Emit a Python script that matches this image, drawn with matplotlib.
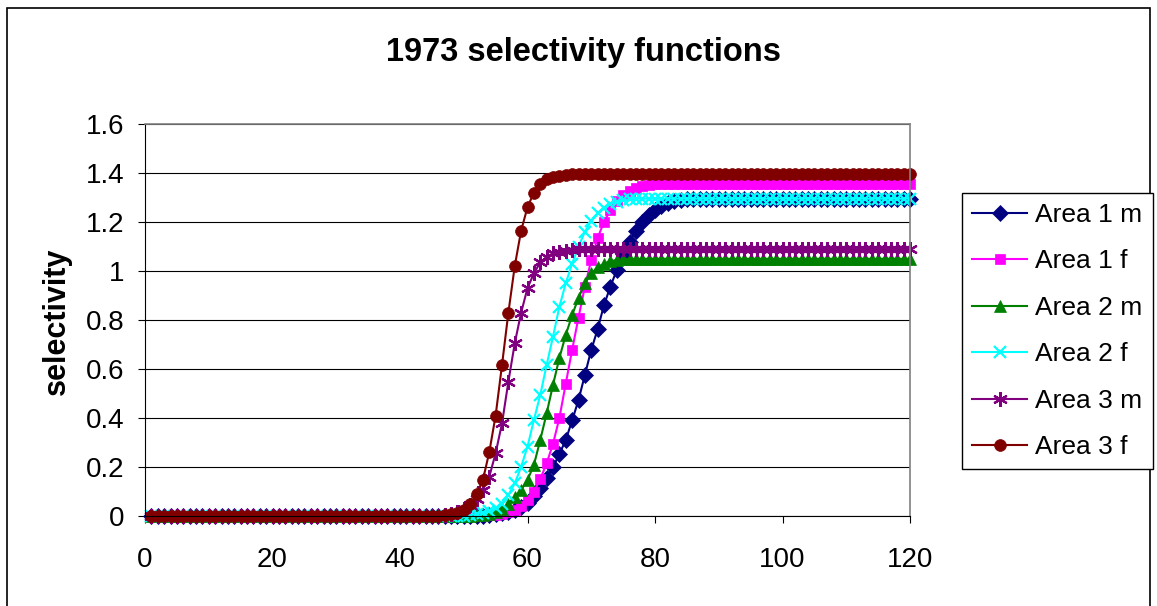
import matplotlib
matplotlib.use("Agg")
import matplotlib.pyplot as plt
from matplotlib.patches import Rectangle

plt.rcParams['font.family'] = ['Liberation Sans', 'DejaVu Sans']

# ages 1..120
ages = list(range(1, 121))

def fill(start, rising, top):
    # zeros before the rise, read values during it, plateau after
    return [0.0] * (start - 1) + rising + [top] * (120 - (start - 1) - len(rising))

area1_m = fill(52, [0.001, 0.002, 0.004, 0.007, 0.011, 0.017, 0.025, 0.038, 0.055, 0.08,
                    0.113, 0.154, 0.199, 0.253, 0.31, 0.39, 0.473, 0.576, 0.678, 0.762,
                    0.861, 0.936, 1.004, 1.07, 1.12, 1.165, 1.2, 1.228, 1.25, 1.265,
                    1.276, 1.284, 1.289, 1.292], 1.295)
area1_f = fill(53, [0.001, 0.003, 0.005, 0.009, 0.015, 0.025, 0.04, 0.065, 0.10, 0.15,
                    0.215, 0.294, 0.40, 0.54, 0.678, 0.81, 0.936, 1.045, 1.135, 1.2,
                    1.25, 1.285, 1.31, 1.328, 1.34, 1.347, 1.352], 1.355)
area2_m = fill(50, [0.001, 0.002, 0.004, 0.006, 0.01, 0.018, 0.03, 0.05, 0.079, 0.106,
                    0.147, 0.208, 0.31, 0.419, 0.535, 0.645, 0.739, 0.82, 0.89, 0.95,
                    0.99, 1.015, 1.03, 1.04, 1.045, 1.048], 1.05)
area2_f = fill(50, [0.002, 0.004, 0.008, 0.013, 0.02, 0.031, 0.05, 0.086, 0.133, 0.201,
                    0.283, 0.392, 0.494, 0.616, 0.732, 0.854, 0.95, 1.03, 1.1, 1.16,
                    1.205, 1.235, 1.258, 1.274, 1.283, 1.289, 1.292], 1.295)
area3_m = fill(47, [0.005, 0.01, 0.018, 0.028, 0.043, 0.07, 0.106, 0.16, 0.256, 0.378,
                    0.548, 0.705, 0.83, 0.93, 0.99, 1.035, 1.058, 1.072, 1.079, 1.083,
                    1.086], 1.088)
area3_f = fill(46, [0.002, 0.004, 0.008, 0.014, 0.026, 0.05, 0.088, 0.147, 0.26, 0.41,
                    0.616, 0.83, 1.02, 1.165, 1.26, 1.32, 1.355, 1.374, 1.384, 1.389,
                    1.392], 1.395)

series = [area1_m, area1_f, area2_m, area2_f, area3_m, area3_f]
labels = ['Area 1 m', 'Area 1 f', 'Area 2 m', 'Area 2 f', 'Area 3 m', 'Area 3 f']
colors = ['#000080', '#FF00FF', '#008000', '#00FFFF', '#800080', '#800000']
markers = ['D', 's', '^', 'x', (6, 2, 0), 'o']
msizes = [8, 7.5, 9, 9, 10.5, 8.5]

W, H = 1157, 606
fig = plt.figure(figsize=(W / 100, H / 100), dpi=100)
ax = fig.add_axes([145 / W, 1 - 516 / H, (910 - 145) / W, (516 - 124) / H])

for ys, lab, c, m, ms in zip(series, labels, colors, markers, msizes):
    ax.plot(ages, ys, color=c, marker=m, markersize=ms, linewidth=1.5,
            markeredgewidth=1.6 if m in ('x', (6, 2, 0)) else 0.5,
            markeredgecolor=c, markerfacecolor=c, label=lab, clip_on=False)

ax.set_xlim(0, 120)
ax.set_ylim(0, 1.6)
ax.set_xticks([0, 20, 40, 60, 80, 100, 120])
ax.set_yticks([0, 0.2, 0.4, 0.6, 0.8, 1, 1.2, 1.4, 1.6])
ax.set_yticklabels(['0', '0.2', '0.4', '0.6', '0.8', '1', '1.2', '1.4', '1.6'])
ax.yaxis.grid(True, color='black', linewidth=0.8)
ax.set_axisbelow(True)
ax.tick_params(axis='both', labelsize=20, direction='out', length=5, width=0.8, color='black')
ax.tick_params(axis='x', pad=17)
ax.tick_params(axis='y', pad=10)
for s in ['left', 'bottom']:
    ax.spines[s].set_color('black')
    ax.spines[s].set_linewidth(0.8)
for s in ['top', 'right']:
    ax.spines[s].set_color('#808080')
    ax.spines[s].set_linewidth(1.2)

fig.text(584 / W, 1 - 52 / H, '1973 selectivity functions', fontsize=23.5,
         fontweight='bold', ha='center', va='center')
fig.text(57 / W, 1 - 321 / H, 'selectivity', fontsize=22, fontweight='bold',
         rotation=90, ha='center', va='center')

leg = fig.legend(loc='upper left', bbox_to_anchor=(962 / W, 1 - 193 / H),
                 bbox_transform=fig.transFigure, borderaxespad=0, fontsize=19,
                 fancybox=False, edgecolor='black', framealpha=1,
                 handlelength=2.1, handletextpad=0.3, labelspacing=0.85,
                 borderpad=0.38)
leg.get_frame().set_linewidth(1.0)

fig.patches.append(Rectangle((7 / W, -0.1), (1150 - 7) / W, 1.1 - 8 / H,
                             transform=fig.transFigure, fill=False,
                             edgecolor='black', linewidth=1.2))

fig.savefig('out.png', dpi=100)
